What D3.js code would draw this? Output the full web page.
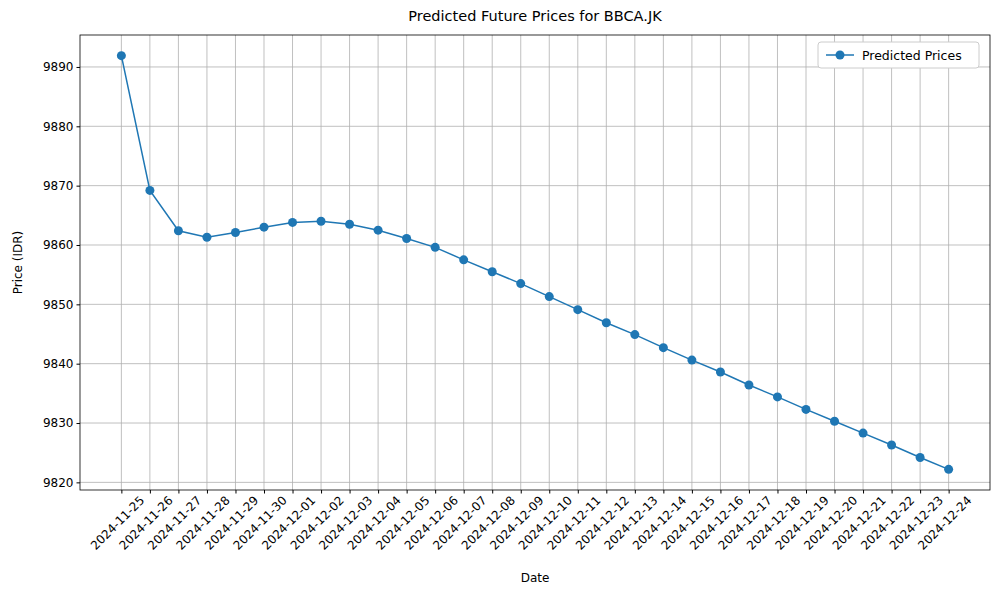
<!DOCTYPE html>
<html><head><meta charset="utf-8">
<script src="https://cdn.jsdelivr.net/npm/d3@7"></script>
<style>body{margin:0;background:#fff;font-family:"DejaVu Sans",sans-serif;}</style>
</head><body><div id="container"></div>
<script>
const dates = d3.range(30).map(i => d3.timeFormat('%Y-%m-%d')(new Date(2024, 10, 25 + i)));
const prices = [9891.9, 9869.2, 9862.4, 9861.3, 9862.1, 9863.0, 9863.8, 9864.0, 9863.5, 9862.5,
    9861.1, 9859.6, 9857.5, 9855.5, 9853.5, 9851.3, 9849.1, 9846.9, 9844.9, 9842.7,
    9840.6, 9838.6, 9836.4, 9834.4, 9832.3, 9830.3, 9828.3, 9826.3, 9824.2, 9822.2];
const yTicks = [9820, 9830, 9840, 9850, 9860, 9870, 9880, 9890];

const margin = { top: 35, right: 10, bottom: 110, left: 80 };
const width = 1000 - margin.left - margin.right;
const height = 600 - margin.top - margin.bottom;
const blue = '#1f77b4';

const svg = d3.select('#container').append('svg')
    .attr('width', 1000).attr('height', 600)
    .append('g')
    .attr('transform', `translate(${margin.left}, ${margin.top})`);

const n = dates.length;
const pad = (n - 1) * 0.05;
const x = d3.scaleLinear().domain([-pad, n - 1 + pad]).range([0, width]);
const ext = d3.extent(prices);
const ym = (ext[1] - ext[0]) * 0.05;
const y = d3.scaleLinear().domain([ext[0] - ym, ext[1] + ym]).range([height, 0]);

// grid
svg.append('g').selectAll('line').data(d3.range(n)).join('line')
    .attr('x1', d => x(d)).attr('x2', d => x(d)).attr('y1', 0).attr('y2', height)
    .attr('stroke', '#b0b0b0').attr('stroke-width', 0.8);
svg.append('g').selectAll('line').data(yTicks).join('line')
    .attr('x1', 0).attr('x2', width).attr('y1', d => y(d)).attr('y2', d => y(d))
    .attr('stroke', '#b0b0b0').attr('stroke-width', 0.8);

const xAxis = svg.append('g').attr('transform', `translate(0, ${height})`)
    .call(d3.axisBottom(x).tickValues(d3.range(n)).tickFormat(i => dates[i]).tickSizeOuter(0).tickSize(3.5));
xAxis.selectAll('text')
    .attr('font-size', 12).attr('text-anchor', 'end')
    .attr('transform', 'translate(13,1) rotate(-45)').attr('dy', '0.7em').attr('dx', 0).attr('y', 6);
const yAxis = svg.append('g')
    .call(d3.axisLeft(y).tickValues(yTicks).tickFormat(d3.format('d')).tickSizeOuter(0).tickSize(3.5));
yAxis.selectAll('text').attr('font-size', 12);
svg.selectAll('.domain').remove();
svg.selectAll('.tick line').attr('stroke', '#000');
svg.selectAll('.tick text').attr('fill', '#000').style('font-family', 'DejaVu Sans');

svg.append('rect').attr('width', width).attr('height', height)
    .attr('fill', 'none').attr('stroke', '#000').attr('stroke-width', 0.8);

svg.append('path').datum(prices)
    .attr('d', d3.line().x((d, i) => x(i)).y(d => y(d)))
    .attr('fill', 'none').attr('stroke', blue).attr('stroke-width', 1.5);
svg.append('g').selectAll('circle').data(prices).join('circle')
    .attr('cx', (d, i) => x(i)).attr('cy', d => y(d)).attr('r', 4.5).attr('fill', blue);

svg.append('text').attr('x', width / 2).attr('y', -14).attr('text-anchor', 'middle')
    .attr('font-size', 14.5).text('Predicted Future Prices for BBCA.JK');
svg.append('text').attr('x', width / 2).attr('y', height + 92).attr('text-anchor', 'middle')
    .attr('font-size', 12).text('Date');
svg.append('text').attr('transform', `translate(-58, ${height / 2}) rotate(-90)`)
    .attr('text-anchor', 'middle').attr('font-size', 12).text('Price (IDR)');

// legend
const lg = svg.append('g').attr('transform', `translate(${width - 172}, 7)`);
lg.append('rect').attr('width', 161).attr('height', 26).attr('rx', 3)
    .attr('fill', '#fff').attr('stroke', '#ccc');
lg.append('line').attr('x1', 8).attr('x2', 36).attr('y1', 13).attr('y2', 13)
    .attr('stroke', blue).attr('stroke-width', 1.5);
lg.append('circle').attr('cx', 22).attr('cy', 13).attr('r', 4.5).attr('fill', blue);
lg.append('text').attr('x', 44).attr('y', 17.5).attr('font-size', 12.5).text('Predicted Prices');
</script></body></html>
